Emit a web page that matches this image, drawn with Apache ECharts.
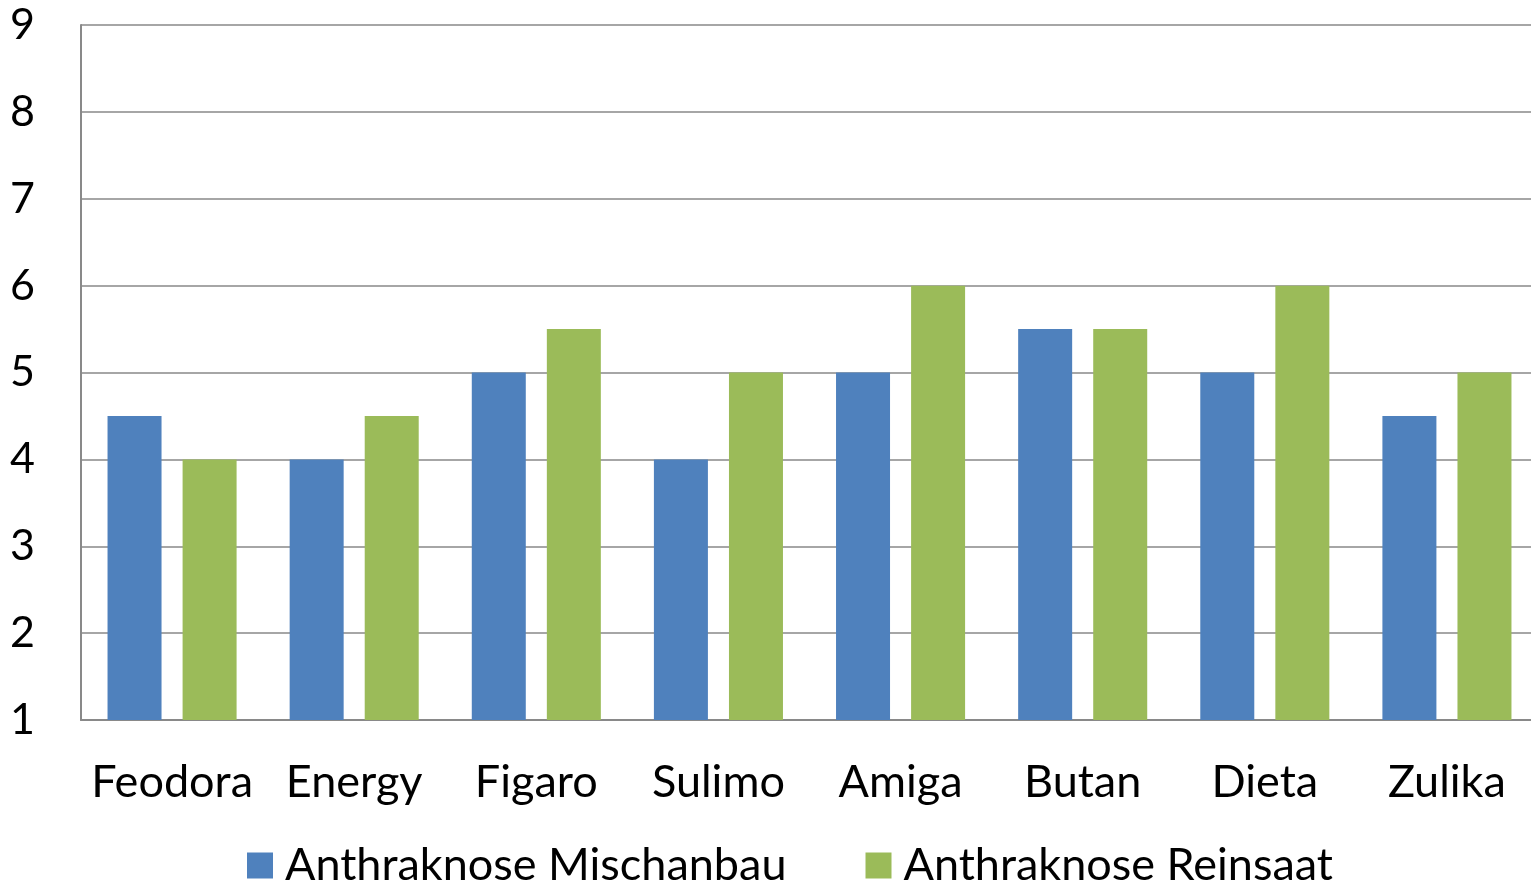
<!DOCTYPE html>
<html>
<head>
<meta charset="utf-8">
<script src="https://cdn.jsdelivr.net/npm/echarts@6/dist/echarts.min.js"></script>
<style>html,body{margin:0;padding:0;background:#fff;}#c{width:1531px;height:882px;}</style>
</head>
<body>
<div id="c"></div>
<script>
const categories = ['Feodora', 'Energy', 'Figaro', 'Sulimo', 'Amiga', 'Butan', 'Dieta', 'Zulika'];
const mischanbau = [4.5, 4, 5, 4, 5, 5.5, 5, 4.5];
const reinsaat = [4, 4.5, 5.5, 5, 6, 5.5, 6, 5];
const seriesNames = ['Anthraknose Mischanbau', 'Anthraknose Reinsaat'];

const FONT = 'Lato';
const chart = echarts.init(document.getElementById('c'));
chart.setOption({
  animation: false,
  grid: { left: 81, right: -7, top: 25, bottom: 162, containLabel: false, outerBoundsMode: 'none' },
  legend: {
    data: seriesNames,
    left: 242, top: 838,
    icon: 'rect', itemWidth: 26, itemHeight: 26, itemGap: 79,
    textStyle: { fontFamily: FONT, fontSize: 45, color: '#000', padding: [0, 0, 0, 7] }
  },
  xAxis: {
    type: 'category', data: categories,
    axisLine: { lineStyle: { color: '#898989', width: 2 } },
    axisTick: { show: false },
    axisLabel: { interval: 0, fontFamily: FONT, fontSize: 45, color: '#000', margin: 40 }
  },
  yAxis: {
    type: 'value', min: 1, max: 9, interval: 1,
    axisLine: { show: true, lineStyle: { color: '#898989', width: 2 } },
    axisTick: { show: false },
    splitLine: { lineStyle: { color: '#898989', width: 1.5 } },
    axisLabel: { fontFamily: FONT, fontSize: 43, color: '#000', margin: 46 }
  },
  series: [
    { name: seriesNames[0], type: 'bar', data: mischanbau, barWidth: 54, barGap: '39%', itemStyle: { color: '#4F81BD' } },
    { name: seriesNames[1], type: 'bar', data: reinsaat, barWidth: 54, barGap: '39%', itemStyle: { color: '#9BBB59' } }
  ]
});
</script>
</body>
</html>
